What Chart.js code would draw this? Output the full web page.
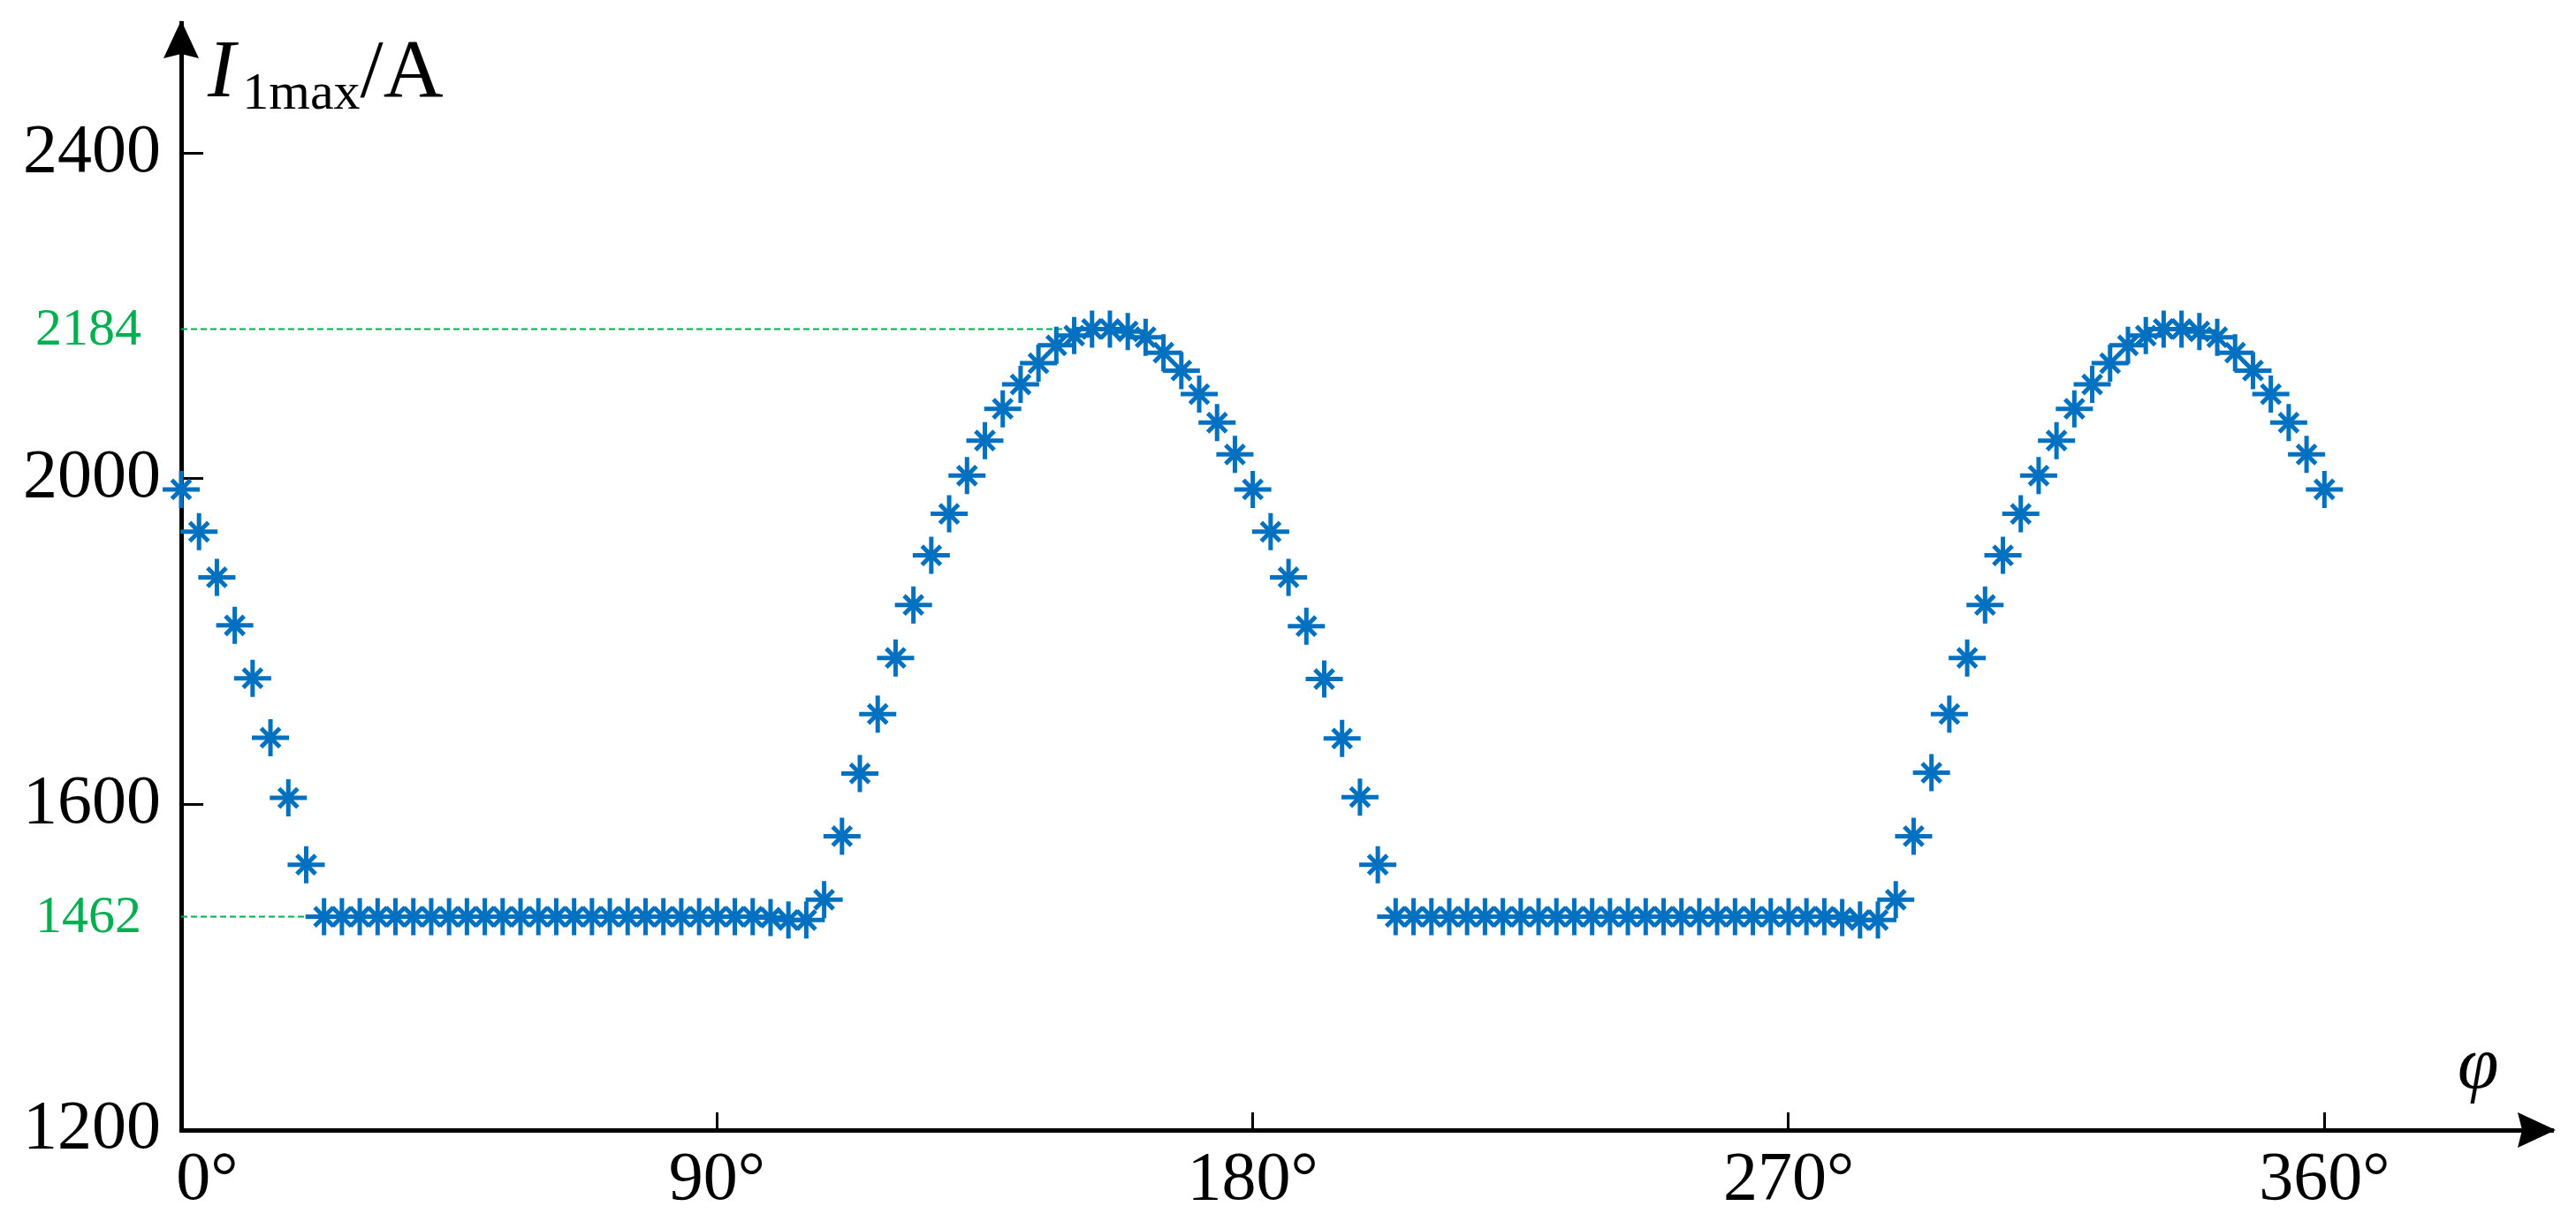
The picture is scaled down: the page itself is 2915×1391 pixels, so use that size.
<!DOCTYPE html>
<html>
<head>
<meta charset="utf-8">
<script src="https://cdn.jsdelivr.net/npm/chart.js@4.4.1/dist/chart.umd.min.js"></script>
<style>
  html, body { margin: 0; padding: 0; background: #fff; }
  canvas { display: block; }
</style>
</head>
<body>
<canvas id="plotChart" width="2915" height="1391"></canvas>
<script>
// Phase angle φ (degrees) and the max current I1max (A) read at each angle
const angles = [
  0, 3, 6, 9, 12, 15, 18, 21, 24, 27, 30, 33, 36, 39, 42, 45, 48, 51, 54, 57,
  60, 63, 66, 69, 72, 75, 78, 81, 84, 87, 90, 93, 96, 99, 102, 105, 108, 111, 114, 117,
  120, 123, 126, 129, 132, 135, 138, 141, 144, 147, 150, 153, 156, 159, 162, 165, 168, 171, 174, 177,
  180, 183, 186, 189, 192, 195, 198, 201, 204, 207, 210, 213, 216, 219, 222, 225, 228, 231, 234, 237,
  240, 243, 246, 249, 252, 255, 258, 261, 264, 267, 270, 273, 276, 279, 282, 285, 288, 291, 294, 297,
  300, 303, 306, 309, 312, 315, 318, 321, 324, 327, 330, 333, 336, 339, 342, 345, 348, 351, 354, 357,
  360
];
const currents = [
  1987, 1935, 1879, 1820, 1755, 1682, 1608, 1526, 1462, 1462, 1462, 1462, 1462, 1462, 1462, 1462, 1462, 1462, 1462, 1462,
  1462, 1462, 1462, 1462, 1462, 1462, 1462, 1462, 1462, 1462, 1462, 1462, 1462, 1461, 1458, 1458, 1483, 1561, 1638, 1711,
  1780, 1845, 1906, 1957, 2004, 2047, 2086, 2116, 2142, 2164, 2176, 2184, 2184, 2181, 2174, 2155, 2133, 2104, 2069, 2030,
  1987, 1935, 1879, 1819, 1754, 1681, 1609, 1526, 1462, 1462, 1462, 1462, 1462, 1462, 1462, 1462, 1462, 1462, 1462, 1462,
  1462, 1462, 1462, 1462, 1462, 1462, 1462, 1462, 1462, 1462, 1462, 1462, 1462, 1461, 1458, 1458, 1483, 1561, 1639, 1711,
  1780, 1845, 1906, 1957, 2004, 2047, 2086, 2116, 2142, 2164, 2176, 2184, 2184, 2181, 2174, 2155, 2133, 2104, 2069, 2030,
  1987
];
const xTicks = [0, 90, 180, 270, 360];
const yTicks = [1200, 1600, 2000, 2400];
// green dashed levels and the angle where each dashed line stops
const refValues = [2184, 1462];
const refEnds = [156, 24];

const serif = "'Liberation Serif', 'Times New Roman', serif";
const blue = "#0070c0";
const green = "#00b050";

const points = angles.map((a, i) => ({ x: a, y: currents[i] }));

// dashed reference lines, arrows and axis names
const decorations = {
  id: "decorations",
  beforeDatasetsDraw(chart) {
    const { ctx, scales: { x, y } } = chart;
    ctx.save();
    ctx.strokeStyle = green;
    ctx.lineWidth = 2;
    ctx.setLineDash([7, 4]);
    refValues.forEach((v, i) => {
      const py = y.getPixelForValue(v);
      ctx.beginPath();
      ctx.moveTo(x.getPixelForValue(0), py);
      ctx.lineTo(x.getPixelForValue(refEnds[i]), py);
      ctx.stroke();
    });
    ctx.setLineDash([]);
    ctx.fillStyle = green;
    ctx.font = "60px " + serif;
    ctx.textAlign = "right";
    ctx.textBaseline = "middle";
    refValues.forEach((v) => {
      ctx.fillText(String(v), x.left - 45, y.getPixelForValue(v) + 2);
    });
    ctx.restore();
  },
  afterDraw(chart) {
    const { ctx, chartArea: { left, right, top, bottom } } = chart;
    ctx.save();
    ctx.fillStyle = "#000";
    // y arrow
    ctx.beginPath();
    ctx.moveTo(left, top - 3);
    ctx.lineTo(left - 20, top + 40);
    ctx.lineTo(left, top + 35);
    ctx.lineTo(left + 20, top + 40);
    ctx.closePath();
    ctx.fill();
    // x arrow
    ctx.beginPath();
    ctx.moveTo(right + 3, bottom);
    ctx.lineTo(right - 40, bottom - 20);
    ctx.lineTo(right - 35, bottom);
    ctx.lineTo(right - 40, bottom + 20);
    ctx.closePath();
    ctx.fill();

    // y name: I1max/A
    ctx.textAlign = "left";
    ctx.textBaseline = "alphabetic";
    let px = left + 30;
    ctx.font = "italic 94px " + serif;
    ctx.fillText("I", px, top + 83);
    px += ctx.measureText("I").width + 8;
    ctx.font = "60px " + serif;
    ctx.fillText("1max", px, top + 97);
    px += ctx.measureText("1max").width;
    ctx.font = "94px " + serif;
    ctx.fillText("/A", px, top + 83);

    // x name: φ
    ctx.font = "italic 84px " + serif;
    ctx.fillText("φ", right - 108, bottom - 48);
    ctx.restore();
  }
};

const ctx = document.getElementById("plotChart").getContext("2d");
const plotChart = new Chart(ctx, {
  type: "scatter",
  data: {
    datasets: [
      {
        data: points,
        showLine: false,
        clip: false,
        pointStyle: "cross",
        pointRadius: 21,
        pointHoverRadius: 21,
        pointBorderWidth: 5,
        pointBorderColor: blue,
        pointBackgroundColor: blue,
      },
      {
        data: points,
        showLine: false,
        clip: false,
        pointStyle: "crossRot",
        pointRadius: 15,
        pointHoverRadius: 15,
        pointBorderWidth: 5,
        pointBorderColor: blue,
        pointBackgroundColor: blue,
      },
    ],
  },
  options: {
    responsive: false,
    animation: false,
    events: [],
    devicePixelRatio: 1,
    layout: {
      padding: { left: 0, right: 14, top: 17, bottom: 0 },
    },
    plugins: {
      legend: { display: false },
      tooltip: { enabled: false },
    },
    scales: {
      x: {
        type: "linear",
        min: 0,
        max: 398.4,
        afterBuildTicks: (scale) => {
          scale.ticks = xTicks.map((v) => ({ value: v }));
        },
        afterFit: (scale) => {
          scale.height = 112;
          scale.paddingLeft = 0;
          scale.paddingRight = 0;
        },
        border: { display: true, color: "#000", width: 5 },
        grid: {
          display: true,
          drawOnChartArea: false,
          drawTicks: true,
          tickLength: -20,
          tickWidth: 3,
          color: "#000",
        },
        ticks: {
          autoSkip: false,
          maxRotation: 0,
          padding: 31,
          color: "#000",
          font: { family: serif, size: 78 },
          // push the 0° label off the y axis
          callback: (v) => (v === 0 ? "   0°" : v + "°"),
        },
      },
      y: {
        type: "linear",
        min: 1200,
        max: 2560,
        afterBuildTicks: (scale) => {
          scale.ticks = yTicks.map((v) => ({ value: v }));
        },
        afterFit: (scale) => {
          scale.width = 205;
          scale.paddingTop = 0;
          scale.paddingBottom = 0;
        },
        border: { display: true, color: "#000", width: 5 },
        grid: {
          display: true,
          drawOnChartArea: false,
          drawTicks: true,
          tickLength: -25,
          tickWidth: 3,
          color: "#000",
        },
        ticks: {
          padding: 48,
          color: "#000",
          font: { family: serif, size: 78 },
          callback: (v) => String(v),
        },
      },
    },
  },
  plugins: [decorations],
});
</script>
</body>
</html>
